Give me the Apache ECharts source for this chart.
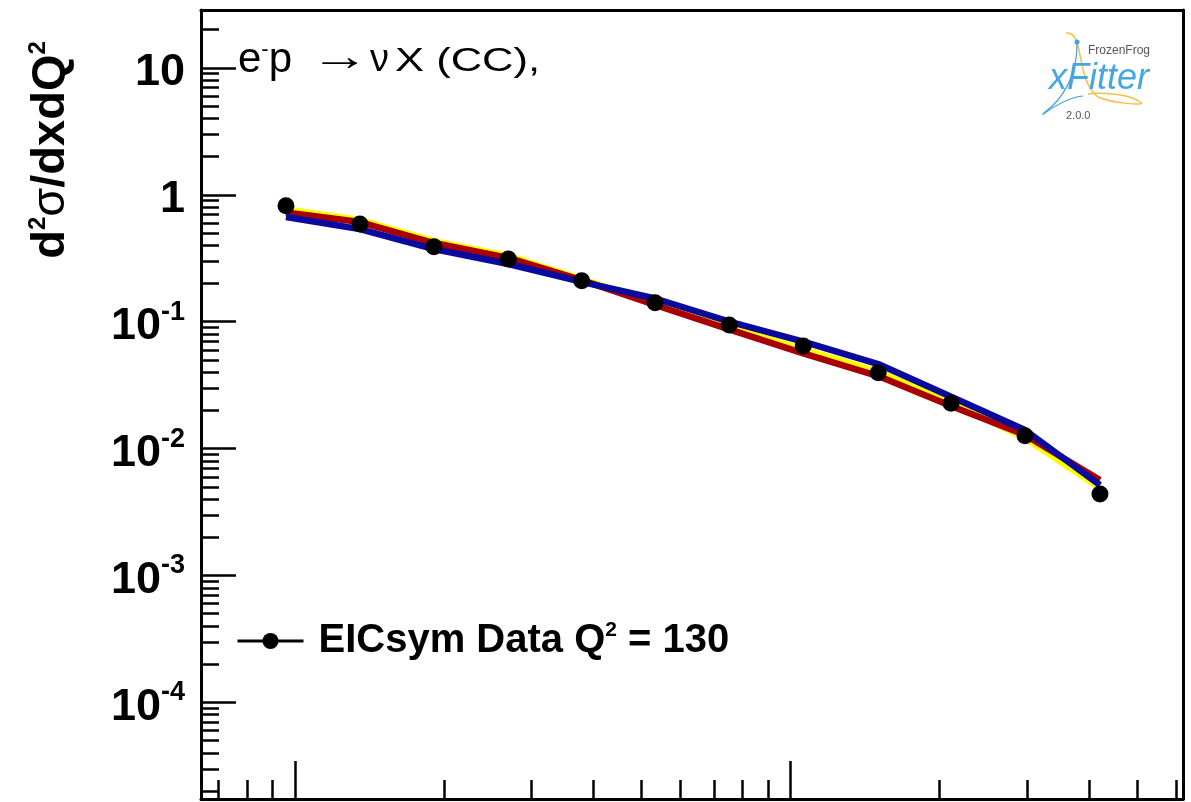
<!DOCTYPE html>
<html>
<head>
<meta charset="utf-8">
<script src="https://cdn.jsdelivr.net/npm/echarts@6/dist/echarts.min.js"></script>
<style>
  html, body { margin: 0; padding: 0; background: #ffffff; }
  #chart { width: 1191px; height: 802px; }
</style>
</head>
<body>
<div id="chart"></div>
<script>
// Bjorken-x bins of the pseudo-data
const xValues = [0.00959, 0.01352, 0.01907, 0.02695, 0.0379, 0.0533, 0.0752, 0.1061, 0.1503, 0.2109, 0.2973, 0.4212];
// Measured reduced cross section, Q^2 = 130
const dataValues = [0.820, 0.589, 0.390, 0.312, 0.2104, 0.1412, 0.0942, 0.0644, 0.0397, 0.0228, 0.01264, 0.00439];
// Theory predictions for three PDF sets
const theoryYellow = [0.766, 0.633, 0.431, 0.330, 0.217, 0.140, 0.0908, 0.0606, 0.0404, 0.0233, 0.01211, 0.00489];
const theoryRed    = [0.726, 0.610, 0.417, 0.318, 0.213, 0.1354, 0.0871, 0.0564, 0.0373, 0.0217, 0.01280, 0.00565];
const theoryBlue   = [0.668, 0.537, 0.374, 0.285, 0.206, 0.1524, 0.1000, 0.0696, 0.0464, 0.0256, 0.01402, 0.00516];

const dataName = 'EICsym Data Q2 = 130';

// Axis ranges and ticks
const xRange = [0.006462, 0.6195];
const yRange = [1.734e-5, 28.6];
const xMajorTicks = [0.01, 0.1];
const yMajorTicks = [1e-4, 1e-3, 1e-2, 1e-1, 1, 10];

function minorTicks(fromExp, toExp) {
  const out = [];
  for (let e = fromExp; e <= toExp; e++) {
    for (let m = 2; m <= 9; m++) out.push(+(m * Math.pow(10, e)).toPrecision(3));
  }
  return out;
}
const xMinorTicks = minorTicks(-3, -1);
const yMinorTicks = minorTicks(-5, 1);

const FONT = '"Liberation Sans", Arial, Helvetica, sans-serif';

function pairs(ys) { return xValues.map((x, i) => [x, ys[i]]); }

function powLabel(v) {
  const e = Math.round(Math.log10(v));
  if (e === 0) return '{b|1}';
  if (e === 1) return '{b|10}';
  return '{b|10}{s|' + e + '}';
}

const frame = { show: true, lineStyle: { color: '#000', width: 3 } };

function xAxisDef(ticks, len, extra) {
  return Object.assign({
    type: 'log', logBase: 10, min: xRange[0], max: xRange[1], position: 'bottom',
    axisLine: { show: false },
    axisTick: { show: true, inside: true, length: len, customValues: ticks, lineStyle: { color: '#000', width: 2.5 } },
    axisLabel: { show: false },
    splitLine: { show: false }
  }, extra || {});
}
function yAxisDef(ticks, len, extra) {
  return Object.assign({
    type: 'log', logBase: 10, min: yRange[0], max: yRange[1], position: 'left',
    axisLine: { show: false },
    axisTick: { show: true, inside: true, length: len, customValues: ticks, lineStyle: { color: '#000', width: 2.5 } },
    axisLabel: { show: false },
    splitLine: { show: false }
  }, extra || {});
}

const chart = echarts.init(document.getElementById('chart'), null, { renderer: 'canvas' });

chart.setOption({
  animation: false,
  backgroundColor: '#ffffff',
  grid: { left: 201, right: 8, top: 10, bottom: 3, containLabel: false },
  xAxis: [
    xAxisDef(xMajorTicks, 38, { axisLine: frame }),
    xAxisDef(xMinorTicks, 19),
    xAxisDef([], 0, { position: 'top', axisLine: frame, axisTick: { show: false } })
  ],
  yAxis: [
    yAxisDef(yMajorTicks, 35, {
      axisLine: frame,
      axisLabel: {
        show: true, customValues: yMajorTicks, margin: 16,
        formatter: powLabel,
        rich: {
          b: { fontFamily: FONT, fontWeight: 'bold', fontSize: 45, color: '#000', lineHeight: 46, padding: [10, 0, 0, 0] },
          s: { fontFamily: FONT, fontWeight: 'bold', fontSize: 27, color: '#000', lineHeight: 27, verticalAlign: 'top' }
        }
      }
    }),
    yAxisDef(yMinorTicks, 18),
    yAxisDef([], 0, { position: 'right', axisLine: frame, axisTick: { show: false } })
  ],
  legend: {
    data: [dataName],
    left: 236, top: 620,
    itemWidth: 66, itemHeight: 20,
    itemStyle: { color: '#000' },
    lineStyle: { color: '#000', width: 3, opacity: 1 },
    formatter: () => '{b|EICsym Data Q}{s|2}{b| = 130}',
    textStyle: {
      rich: {
        b: { fontFamily: FONT, fontWeight: 'bold', fontSize: 40, color: '#000', lineHeight: 42 },
        s: { fontFamily: FONT, fontWeight: 'bold', fontSize: 21, color: '#000', lineHeight: 21, verticalAlign: 'top' }
      },
      padding: [0, 0, 0, 10]
    },
    padding: 0
  },
  series: [
    { name: 'yellow', type: 'line', data: pairs(theoryYellow), showSymbol: false, z: 2,
      lineStyle: { color: '#ffff00', width: 6.5 }, itemStyle: { color: '#ffff00' } },
    { name: 'red', type: 'line', data: pairs(theoryRed), showSymbol: false, z: 3,
      lineStyle: { color: '#a80000', width: 6.5 }, itemStyle: { color: '#a80000' } },
    { name: 'blue', type: 'line', data: pairs(theoryBlue), showSymbol: false, z: 4,
      lineStyle: { color: '#0a0a9c', width: 6.5 }, itemStyle: { color: '#0a0a9c' } },
    { name: dataName, type: 'line', data: pairs(dataValues), z: 5,
      symbol: 'circle', symbolSize: 17, showSymbol: true,
      lineStyle: { opacity: 0 }, itemStyle: { color: '#000' } }
  ],
  graphic: [
    // y-axis title
    {
      type: 'text', x: 51, y: 150, rotation: Math.PI / 2,
      style: {
        text: '{b|d}{s|2}{g|\u03C3}{b|/dxdQ}{s|2}',
        align: 'center', verticalAlign: 'middle',
        rich: {
          b: { fontFamily: FONT, fontWeight: 'bold', fontSize: 47, fill: '#000', lineHeight: 50 },
          g: { fontFamily: FONT, fontWeight: 'normal', fontSize: 47, fill: '#000', lineHeight: 50 },
          s: { fontFamily: FONT, fontWeight: 'bold', fontSize: 24, fill: '#000', lineHeight: 24, verticalAlign: 'top' }
        }
      }
    },
    // process label: e^- p -> nu X (CC),
    {
      type: 'text', x: 238, y: 60,
      style: {
        text: '{l|e}{s|-}{l|p}',
        align: 'left', verticalAlign: 'middle',
        rich: {
          l: { fontFamily: FONT, fontSize: 42, fill: '#000', lineHeight: 42 },
          s: { fontFamily: FONT, fontSize: 22, fill: '#000', lineHeight: 22, verticalAlign: 'top' }
        }
      }
    },
    {
      type: 'text', x: 310, y: 58, scaleX: 1.4,
      style: { text: '\u2192', fontFamily: FONT, fontSize: 42, fill: '#000', align: 'left', verticalAlign: 'middle' }
    },
    {
      type: 'text', x: 370, y: 61,
      style: { text: '\u03BD', fontFamily: FONT, fontSize: 38, fill: '#000', align: 'left', verticalAlign: 'middle' }
    },
    {
      type: 'text', x: 395, y: 62, scaleX: 1.32,
      style: { text: 'X (CC),', fontFamily: FONT, fontSize: 33, fill: '#000', align: 'left', verticalAlign: 'middle' }
    },
    // program badge
    {
      type: 'group', x: 0, y: 0,
      children: [
        { type: 'bezierCurve', shape: { x1: 1066, y1: 33, x2: 1098, y2: 97, cpx1: 1085, cpy1: 30, cpx2: 1075, cpy2: 80 },
          style: { stroke: '#f5c04a', lineWidth: 1.5, fill: null } },
        { type: 'bezierCurve', shape: { x1: 1098, y1: 97, x2: 1140, y2: 102, cpx1: 1115, cpy1: 104, cpx2: 1150, cpy2: 106 },
          style: { stroke: '#f5c04a', lineWidth: 1.5, fill: null } },
        { type: 'bezierCurve', shape: { x1: 1140, y1: 102, x2: 1088, y2: 94, cpx1: 1130, cpy1: 94, cpx2: 1100, cpy2: 92 },
          style: { stroke: '#f5c04a', lineWidth: 1.5, fill: null } },
        { type: 'circle', shape: { cx: 1077, cy: 42, r: 2.5 }, style: { fill: '#3fa3dc' } },
        { type: 'bezierCurve', shape: { x1: 1077, y1: 42, x2: 1045, y2: 112, cpx1: 1078, cpy1: 75, cpx2: 1062, cpy2: 100 },
          style: { stroke: '#3fa3dc', lineWidth: 1.2, fill: null } },
        { type: 'bezierCurve', shape: { x1: 1045, y1: 112, x2: 1083, y2: 96, cpx1: 1035, cpy1: 122, cpx2: 1060, cpy2: 98 },
          style: { stroke: '#3fa3dc', lineWidth: 1.2, fill: null } },
        { type: 'text', x: 1088, y: 51,
          style: { text: 'FrozenFrog', fontFamily: FONT, fontSize: 12, fill: '#555', verticalAlign: 'middle' } },
        { type: 'text', x: 1049, y: 79,
          style: { text: 'xFitter', fontFamily: FONT, fontStyle: 'italic', fontSize: 36, fill: '#45a6e0', verticalAlign: 'middle' } },
        { type: 'text', x: 1066, y: 116,
          style: { text: '2.0.0', fontFamily: FONT, fontSize: 11, fill: '#555', verticalAlign: 'middle' } }
      ]
    }
  ]
});
</script>
</body>
</html>
